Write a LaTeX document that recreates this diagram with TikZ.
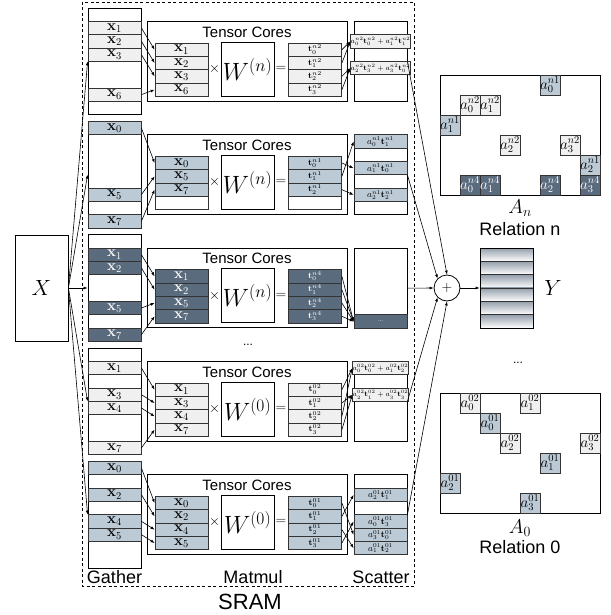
\RequirePackage{fix-cm}
\documentclass[tikz,border=0pt]{standalone}
\usepackage[no-math]{fontspec}
\setmainfont{Liberation Sans}
\usetikzlibrary{arrows.meta}

\definecolor{cLite}{HTML}{F0F0F0}
\definecolor{cBlue}{HTML}{BCCAD6}
\definecolor{cDark}{HTML}{5B6B7E}
\definecolor{cLine}{HTML}{333333}

\tikzset{
  frame/.style={draw=black, line width=0.8pt, inner sep=0pt, minimum width=53pt},
  cell/.style={draw=cLine, line width=0.8pt, inner sep=0pt, minimum width=53pt, minimum height=13.33pt, font=\fontsize{15}{15}\selectfont},
  emptycell/.style={cell, fill=white},
  litecell/.style={cell, fill=cLite},
  bluecell/.style={cell, fill=cBlue},
  darkcell/.style={cell, fill=cDark, text=white},
  acell/.style={minimum size=20pt, font=\fontsize{15}{15}\selectfont},
  tsub/.style={font=\fontsize{8.5}{8.5}\selectfont},
  sbig/.style={font=\fontsize{9}{9}\selectfont},
  ssmall/.style={font=\fontsize{7.2}{7.2}\selectfont},
  arr/.style={-{Latex[length=4pt,width=3pt]}, line width=0.6pt},
  lbl/.style={font=\fontsize{18}{18}\selectfont},
}

\begin{document}
\begin{tikzpicture}[x=1pt, y=-1pt]
\useasboundingbox (0,0) rectangle (610,615);

% SRAM
\draw[line width=0.9pt, dash pattern=on 3pt off 2.5pt] (82,2) rectangle (414,586);
\node[font=\fontsize{22}{22}\selectfont] (sram) at (250,602) {SRAM};
\node[lbl] (gatherlbl) at (114.5,577) {Gather};
\node[lbl] (matmullbl) at (253,577) {Matmul};
\node[lbl] (scatterlbl) at (381,577) {Scatter};
\node[font=\fontsize{12}{12}\selectfont] (vdots) at (248,345) {...};

% Input
\node[frame, minimum height=106pt, font=\fontsize{22}{22}\selectfont] (xin) at (41.5,288) {$X$};

% Gather + Matmul per relation
\foreach \g/\gt/\sty/\rel/\wi/\gat in {1/8/litecell/n2/n/{1,2,3,6}, 2/121.33/bluecell/n1/n/{0,5,7}, 3/234.67/darkcell/n4/n/{1,2,5,7}, 4/348/litecell/02/0/{1,3,4,7}, 5/461.33/bluecell/01/0/{0,2,4,5}}{
  \begin{scope}[shift={(0,\gt)}]
    \node[frame, minimum height=106.67pt] (gat\g) at (114.5,53.33) {};
    \node[frame, minimum width=200pt, minimum height=79.5pt] (tc\g) at (247,53.25) {};
    \node[font=\fontsize{15}{15}\selectfont] (tclbl\g) at (247,24) {Tensor Cores};
    \foreach \i in {0,...,3}{
      \node[emptycell] (inbg\g-\i) at (181.5,{41.67+13.33*\i}) {};
      \node[emptycell] (tbg\g-\i) at (315,{41.67+13.33*\i}) {};
    }
    \node[frame, minimum height=54pt, font=\fontsize{25}{25}\selectfont] (w\g) at (247.5,61) {$W^{(\wi)}$};
    \node[font=\fontsize{14}{14}\selectfont] (times\g) at (214.5,61) {$\times$};
    \node[font=\fontsize{14}{14}\selectfont] (eq\g) at (281,61) {$=$};
    \foreach \k [count=\i from 0] in \gat{
      \node[\sty] (ga\g-\k) at (114.5,{6.67+13.33*\k}) {$\mathbf{x}_\k$};
      \node[\sty] (in\g-\i) at (181.5,{41.67+13.33*\i}) {$\mathbf{x}_\k$};
      \node[\sty, tsub] (t\g-\i) at (315,{41.67+13.33*\i}) {$\mathbf{t}_\i^{\rel}$};
      \draw[arr] (ga\g-\k.east) -- (in\g-\i.west);
    }
    \node[frame, minimum height=80pt] (sc\g) at (380.5,53.5) {};
  \end{scope}
  \draw[arr] (xin.east) -- (gat\g.west);
}

% Scatter, relation n2
\begin{scope}[shift={(0,8)}]
  \node[litecell, ssmall] (s1-1) at (380.5,33.5) {$a_0^{n2}\mathbf{t}_0^{n2}+a_1^{n2}\mathbf{t}_1^{n2}$};
  \node[litecell, ssmall] (s1-3) at (380.5,60.17) {$a_2^{n2}\mathbf{t}_3^{n2}+a_3^{n2}\mathbf{t}_0^{n2}$};
\end{scope}
\draw[arr] (t1-0.east) -- (s1-1.west);
\draw[arr] (t1-1.east) -- (s1-1.west);
\draw[arr] (t1-2.east) -- (s1-3.west);
\draw[arr] (t1-3.east) -- (s1-3.west);

% Scatter, relation n1
\begin{scope}[shift={(0,121.33)}]
  \node[bluecell, sbig] (s2-0) at (380.5,20.17) {$a_0^{n1}\mathbf{t}_1^{n1}$};
  \node[bluecell, sbig] (s2-2) at (380.5,46.83) {$a_1^{n1}\mathbf{t}_0^{n1}$};
  \node[bluecell, sbig] (s2-4) at (380.5,73.5) {$a_2^{n1}\mathbf{t}_2^{n1}$};
\end{scope}
\draw[arr] (t2-1.east) -- (s2-0.west);
\draw[arr] (t2-0.east) -- (s2-2.west);
\draw[arr] (t2-2.east) -- (s2-4.west);

% Scatter, relation n4
\node[darkcell, font=\fontsize{6}{6}\selectfont, text=cLite] (s3-5) at (380.5,321.5) {...};
\foreach \i in {0,...,3}
  \draw[arr] (t3-\i.east) -- (s3-5.west);

% Scatter, relation 02
\begin{scope}[shift={(0,348)}]
  \node[litecell, ssmall] (s4-0) at (380.5,20.17) {$a_0^{02}\mathbf{t}_0^{02}+a_1^{02}\mathbf{t}_2^{02}$};
  \node[litecell, ssmall] (s4-2) at (380.5,46.83) {$a_2^{02}\mathbf{t}_1^{02}+a_3^{02}\mathbf{t}_3^{02}$};
\end{scope}
\draw[arr] (t4-0.east) -- (s4-0.west);
\draw[arr] (t4-2.east) -- (s4-0.west);
\draw[arr] (t4-1.east) -- (s4-2.west);
\draw[arr] (t4-3.east) -- (s4-2.west);

% Scatter, relation 01
\begin{scope}[shift={(0,461.33)}]
  \node[bluecell, sbig] (s5-1) at (380.5,33.5) {$a_2^{01}\mathbf{t}_1^{01}$};
  \node[bluecell, sbig] (s5-3) at (380.5,60.17) {$a_0^{01}\mathbf{t}_3^{01}$};
  \node[bluecell, sbig] (s5-4) at (380.5,73.5) {$a_3^{01}\mathbf{t}_0^{01}$};
  \node[bluecell, sbig] (s5-5) at (380.5,86.83) {$a_1^{01}\mathbf{t}_2^{01}$};
\end{scope}
\draw[arr] (t5-1.east) -- (s5-1.west);
\draw[arr] (t5-3.east) -- (s5-3.west);
\draw[arr] (t5-0.east) -- (s5-4.west);
\draw[arr] (t5-2.east) -- (s5-5.west);

% Sum
\node[circle, draw, line width=0.8pt, minimum size=26pt, inner sep=0pt, font=\fontsize{14}{14}\selectfont] (plus) at (447,288) {$+$};
\draw[arr] (sc1.east) -- (plus.north);
\draw[arr] (sc2.east) -- (plus.north west);
\draw[arr] (sc3.east) -- (plus.west);
\draw[arr] (sc4.east) -- (plus.south west);
\draw[arr] (sc5.east) -- (plus.south);

% Output
\foreach \i in {0,...,5}
  \node[cell, top color=cDark!65, bottom color=white] (yrow\i) at (506.5,{254.67+13.33*\i}) {};
\node[frame, minimum height=80pt] (ystack) at (506.5,288) {};
\node[font=\fontsize{22}{22}\selectfont] (ylbl) at (553,288) {$Y$};
\draw[arr] (plus.east) -- (ystack.west);

% Relation n
\node[frame, minimum width=160pt, minimum height=120pt] (an) at (520,135) {};
\foreach \c/\r/\sty/\lab in {5/0/bluecell/a_0^{n1}, 1/1/litecell/a_0^{n2}, 2/1/litecell/a_1^{n2}, 0/2/bluecell/a_1^{n1}, 3/3/litecell/a_2^{n2}, 6/3/litecell/a_3^{n2}, 7/4/bluecell/a_2^{n1}, 1/5/darkcell/a_0^{n4}, 2/5/darkcell/a_1^{n4}, 5/5/darkcell/a_2^{n4}, 7/5/darkcell/a_3^{n4}}
  \node[\sty, acell] (an-\c-\r) at ({450+20*\c},{85+20*\r}) {$\lab$};
\node[font=\fontsize{20}{20}\selectfont] (anlbl) at (520,208) {$A_n$};
\node[lbl] (relnlbl) at (520,229) {Relation n};

\node[font=\fontsize{12}{12}\selectfont] (rdots) at (518,363) {...};

% Relation 0
\node[frame, minimum width=160pt, minimum height=120pt] (azero) at (520,453) {};
\foreach \c/\r/\sty/\lab in {1/0/litecell/a_0^{02}, 4/0/litecell/a_1^{02}, 2/1/bluecell/a_0^{01}, 3/2/litecell/a_2^{02}, 7/2/litecell/a_3^{02}, 5/3/bluecell/a_1^{01}, 0/4/bluecell/a_2^{01}, 4/5/bluecell/a_3^{01}}
  \node[\sty, acell] (az-\c-\r) at ({450+20*\c},{403+20*\r}) {$\lab$};
\node[font=\fontsize{20}{20}\selectfont] (azlbl) at (520,528) {$A_0$};
\node[lbl] (rel0lbl) at (520,547) {Relation 0};
\end{tikzpicture}
\end{document}
